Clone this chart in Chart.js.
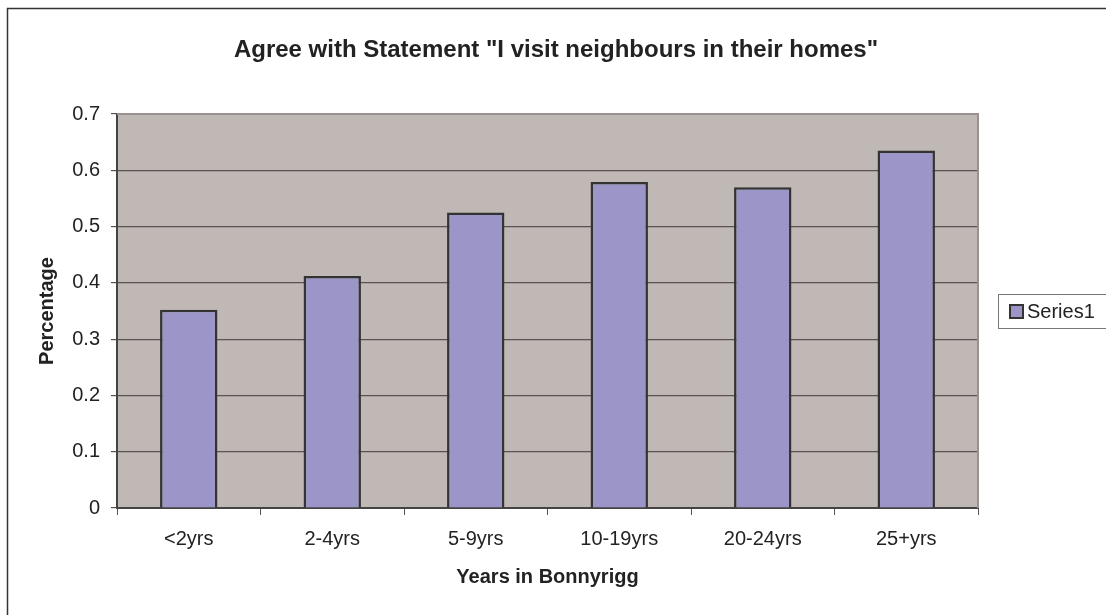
<!DOCTYPE html>
<html>
<head>
<meta charset="utf-8">
<script src="https://cdn.jsdelivr.net/npm/chart.js@4.4.1/dist/chart.umd.min.js"></script>
<style>
    html, body { margin: 0; padding: 0; background: #ffffff; }
    #wrap { width: 1106px; height: 615px; position: relative; }
</style>
</head>
<body>
<div id="wrap"><canvas id="barChart"></canvas></div>
<script>
// Data
const categories = ['<2yrs', '2-4yrs', '5-9yrs', '10-19yrs', '20-24yrs', '25+yrs'];
const series1 = [0.352, 0.412, 0.525, 0.579, 0.570, 0.635];
const yTickLabels = ['0', '0.1', '0.2', '0.3', '0.4', '0.5', '0.6', '0.7'];
const chartTitle = 'Agree with Statement "I visit neighbours in their homes"';
const seriesName = 'Series1';

const FONT = 'Arial, "Liberation Sans", sans-serif';

// Grey plot background plus the light frame on top / right
const plotFrame = {
    id: 'plotFrame',
    beforeDraw(chart) {
        const { ctx, chartArea: a } = chart;
        ctx.save();
        ctx.fillStyle = '#c0b8b5';
        ctx.fillRect(a.left, a.top, a.right - a.left, a.bottom - a.top);
        ctx.restore();
    },
    afterDraw(chart) {
        const { ctx, chartArea: a } = chart;
        ctx.save();
        ctx.strokeStyle = '#9a9090';
        ctx.lineWidth = 2;
        ctx.beginPath();
        ctx.moveTo(a.left, a.top);
        ctx.lineTo(a.right, a.top);
        ctx.lineTo(a.right, a.bottom);
        ctx.stroke();

        // outer chart border (runs off the right / bottom edge)
        ctx.strokeStyle = '#333333';
        ctx.lineWidth = 1.5;
        ctx.strokeRect(7.5, 8.5, 1200, 700);

        // title
        ctx.fillStyle = '#222222';
        ctx.font = 'bold 24px ' + FONT;
        ctx.textAlign = 'center';
        ctx.textBaseline = 'middle';
        ctx.fillText(chartTitle, 556, 50);

        // legend box
        const ds = chart.data.datasets[0];
        ctx.fillStyle = '#ffffff';
        ctx.fillRect(998, 294, 120, 34);
        ctx.strokeStyle = '#777777';
        ctx.lineWidth = 1;
        ctx.strokeRect(998.5, 294.5, 120, 34);
        ctx.fillStyle = ds.backgroundColor;
        ctx.fillRect(1010, 305, 13, 13);
        ctx.strokeStyle = '#333333';
        ctx.lineWidth = 2;
        ctx.strokeRect(1010, 305, 13, 13);
        ctx.fillStyle = '#222222';
        ctx.font = '20px ' + FONT;
        ctx.textAlign = 'left';
        ctx.fillText(ds.label, 1027, 312);
        ctx.restore();
    }
};

new Chart(document.getElementById('barChart'), {
    type: 'bar',
    data: {
        labels: categories,
        datasets: [{
            label: seriesName,
            data: series1,
            backgroundColor: '#9b95c8',
            borderColor: '#333333',
            borderWidth: 2.5,
            barPercentage: 0.4,
            categoryPercentage: 1.0
        }]
    },
    options: {
        responsive: true,
        maintainAspectRatio: false,
        animation: false,
        layout: {
            padding: { left: 30, right: 128, top: 114, bottom: 0 }
        },
        plugins: {
            legend: { display: false },
            title: { display: false },
            tooltip: { enabled: false }
        },
        scales: {
            x: {
                afterFit(scale) { scale.height = 107; },
                grid: {
                    drawOnChartArea: false,
                    offset: true,
                    tickLength: 7,
                    color: '#555555',
                    lineWidth: 1
                },
                border: { color: '#444444', width: 2 },
                ticks: {
                    color: '#222222',
                    font: { family: FONT, size: 20 },
                    padding: 12
                },
                title: {
                    display: true,
                    text: 'Years in Bonnyrigg',
                    color: '#222222',
                    font: { family: FONT, size: 20, weight: 'bold' },
                    padding: { top: 0, bottom: 26 }
                }
            },
            y: {
                min: 0,
                max: 0.7,
                afterFit(scale) { scale.width = 87; },
                grid: {
                    color: '#5a5252',
                    lineWidth: 1.2,
                    tickLength: 6
                },
                border: { color: '#444444', width: 2 },
                ticks: {
                    stepSize: 0.1,
                    color: '#222222',
                    font: { family: FONT, size: 20 },
                    padding: 11,
                    callback: (v, i) => yTickLabels[i]
                },
                title: {
                    display: true,
                    text: 'Percentage',
                    color: '#222222',
                    font: { family: FONT, size: 20, weight: 'bold' },
                    padding: { top: 5, bottom: 0 }
                }
            }
        }
    },
    plugins: [plotFrame]
});
</script>
</body>
</html>
